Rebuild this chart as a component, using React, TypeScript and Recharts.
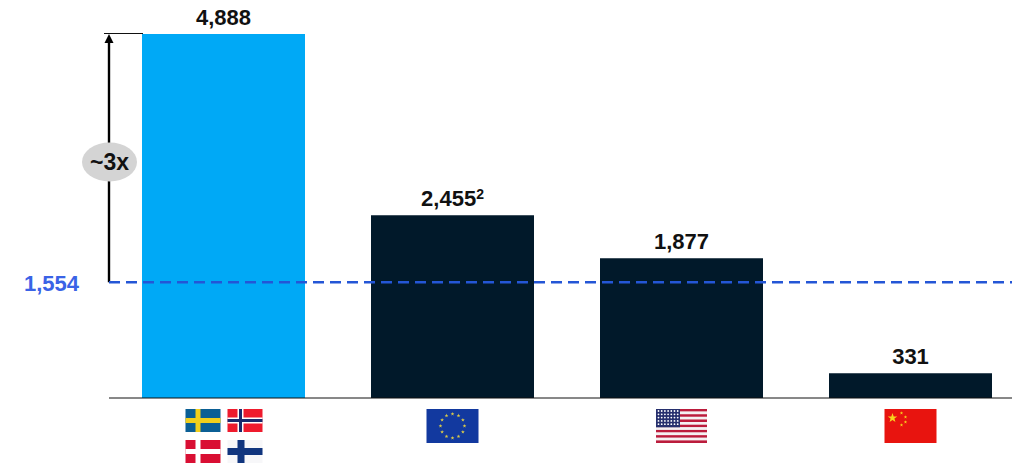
import React from 'react';
import { BarChart, Bar, Cell, XAxis, YAxis, LabelList, ReferenceLine } from 'recharts';

const regions = ['Nordics', 'EU', 'US', 'China'];
const values = [4888, 2455, 1877, 331];
const footnotes = ['', '2', '', ''];
const barColors = ['#00a9f6', '#01192a', '#01192a', '#01192a'];
const nordicAverage = 1554;
const multipleLabel = '~3x';

const chartData = regions.map((region, i) => ({ region, value: values[i], note: footnotes[i] }));

const WIDTH = 1025;
const HEIGHT = 464;
const TOP = 34;
const BASELINE = 398;
const LEFT = 109;
const FONT = '"Liberation Sans", Arial, sans-serif';
const yFor = (v: number) => BASELINE - (v / values[0]) * (BASELINE - TOP);

function Rect(p: { x: number; y: number; w: number; h: number; fill: string }) {
  return <rect x={p.x} y={p.y} width={p.w} height={p.h} fill={p.fill} />;
}

function starPoints(cx: number, cy: number, r: number) {
  const pts: string[] = [];
  for (let i = 0; i < 10; i++) {
    const rad = i % 2 ? r * 0.4 : r;
    const a = -Math.PI / 2 + (i * Math.PI) / 5;
    pts.push(`${cx + rad * Math.cos(a)},${cy + rad * Math.sin(a)}`);
  }
  return pts.join(' ');
}

// Flags under the axis, one set per category
function Nordic({ x, y }: { x: number; y: number }) {
  const w = 35;
  const h = 23;
  const cross = (ox: number, oy: number, bg: string, fg: string, band: number, inner?: string) => (
    <g>
      <Rect x={ox} y={oy} w={w} h={h} fill={bg} />
      <Rect x={ox + 10} y={oy} w={band} h={h} fill={fg} />
      <Rect x={ox} y={oy + (h - band) / 2} w={w} h={band} fill={fg} />
      {inner && <Rect x={ox + 11.5} y={oy} w={band - 3} h={h} fill={inner} />}
      {inner && <Rect x={ox} y={oy + (h - band) / 2 + 1.5} w={w} h={band - 3} fill={inner} />}
    </g>
  );
  return (
    <g>
      {cross(x - 38, y, '#0b5f95', '#f2cf1c', 5)}
      {cross(x + 4, y, '#ef1b2d', '#ffffff', 6, '#1a2a6c')}
      {cross(x - 38, y + 31, '#d90f33', '#ffffff', 5)}
      {cross(x + 4, y + 31, '#f7f7f9', '#10357e', 7)}
    </g>
  );
}

function Eu({ x, y }: { x: number; y: number }) {
  const stars = Array.from({ length: 12 }, (_, i) => (i * Math.PI) / 6);
  return (
    <g>
      <Rect x={x - 26} y={y} w={52} h={34} fill="#12399f" />
      {stars.map((a) => (
        <polygon key={a} points={starPoints(x + 12 * Math.sin(a), y + 17 - 12 * Math.cos(a), 2)} fill="#d9c94a" />
      ))}
    </g>
  );
}

function Us({ x, y }: { x: number; y: number }) {
  const h = 34 / 13;
  const rows = Array.from({ length: 13 }, (_, i) => i);
  const dotRows = [0, 1, 2, 3, 4];
  const dotCols = [0, 1, 2, 3, 4, 5, 6];
  return (
    <g>
      {rows.map((r) => (
        <Rect key={r} x={x - 25.5} y={y + r * h} w={51} h={h} fill={r % 2 ? '#f4f1f2' : '#bb1c3c'} />
      ))}
      <Rect x={x - 25.5} y={y} w={24} h={h * 7} fill="#27306e" />
      {dotRows.map((r) =>
        dotCols.map((c) => <circle key={`${r}-${c}`} cx={x - 23 + c * 3.2} cy={y + 2 + r * 3.3} r={0.9} fill="#fff" />)
      )}
    </g>
  );
}

function China({ x, y }: { x: number; y: number }) {
  return (
    <g>
      <Rect x={x - 26} y={y} w={52} h={34} fill="#e8140f" />
      <polygon points={starPoints(x - 18, y + 9, 5)} fill="#f7d51d" />
      <polygon points={starPoints(x - 9, y + 4, 1.8)} fill="#f7d51d" />
      <polygon points={starPoints(x - 5, y + 8, 1.8)} fill="#f7d51d" />
      <polygon points={starPoints(x - 5, y + 13, 1.8)} fill="#f7d51d" />
      <polygon points={starPoints(x - 9, y + 16, 1.8)} fill="#f7d51d" />
    </g>
  );
}

function FlagTick(props: any) {
  const { x, payload } = props;
  const y = 409;
  if (payload.value === 'Nordics') return <Nordic x={x} y={y} />;
  if (payload.value === 'EU') return <Eu x={x} y={y} />;
  if (payload.value === 'US') return <Us x={x} y={y} />;
  return <China x={x} y={y} />;
}

function ValueLabel(props: any) {
  const { x, y, width, index, value } = props;
  const note = footnotes[index];
  return (
    <text x={x + width / 2} y={y - 9} textAnchor="middle" fontFamily={FONT} fontWeight="bold" fontSize={22} fill="#111">
      {value.toLocaleString('en-US')}
      {note && (
        <tspan fontSize={14} dy={-7}>
          {note}
        </tspan>
      )}
    </text>
  );
}

// Arrow from the average line up to the top bar, with its grey multiple badge
function MultipleArrow(props: any) {
  const top = props.y1 ?? yFor(values[0]);
  const bottom = yFor(nordicAverage);
  return (
    <g>
      <line x1={104} x2={143} y1={top - 0.5} y2={top - 0.5} stroke="#111" strokeWidth={1.2} />
      <line x1={109} x2={109} y1={top + 6} y2={bottom} stroke="#000" strokeWidth={2.4} />
      <polygon points={`109,${top} 104.5,${top + 9} 113.5,${top + 9}`} fill="#000" />
      <ellipse cx={109.5} cy={162} rx={27.5} ry={19.5} fill="#d4d4d4" />
      <text x={109.5} y={170} textAnchor="middle" fontFamily={FONT} fontWeight="bold" fontSize={23} fill="#111">
        {multipleLabel}
      </text>
    </g>
  );
}

export default function App() {
  return (
    <div style={{ position: 'absolute', left: 0, top: 0, width: 1012, height: 464, overflow: 'hidden', background: '#fff' }}>
      <BarChart
        width={WIDTH}
        height={HEIGHT}
        data={chartData}
        margin={{ top: TOP, right: 0, bottom: 0, left: LEFT }}
      >
        <XAxis
          dataKey="region"
          height={HEIGHT - BASELINE}
          interval={0}
          tickLine={false}
          axisLine={{ stroke: '#111', strokeWidth: 1 }}
          tick={FlagTick}
        />
        <YAxis hide domain={[0, values[0]]} />
        <Bar dataKey="value" barSize={163} isAnimationActive={false}>
          {chartData.map((d, i) => (
            <Cell key={d.region} fill={barColors[i]} />
          ))}
          <LabelList dataKey="value" content={ValueLabel} />
        </Bar>
        <ReferenceLine y={values[0]} shape={MultipleArrow} />
        <ReferenceLine
          y={nordicAverage}
          stroke="#2456d6"
          strokeWidth={2.6}
          strokeDasharray="11 6"
          label={{
            value: nordicAverage.toLocaleString('en-US'),
            position: 'left',
            dx: -25,
            dy: 1,
            fill: '#3a63e6',
            fontFamily: FONT,
            fontWeight: 'bold',
            fontSize: 22,
          }}
        />
      </BarChart>
    </div>
  );
}
